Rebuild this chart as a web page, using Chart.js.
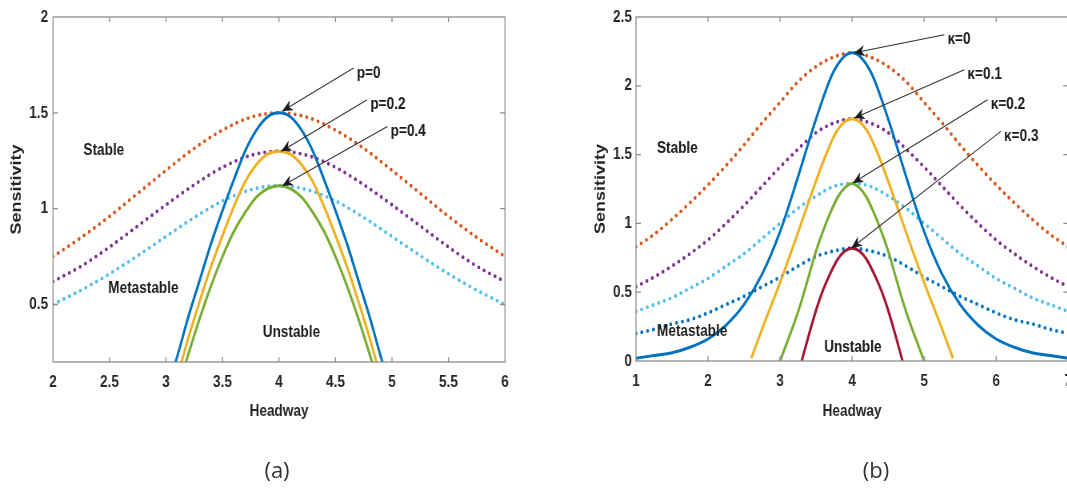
<!DOCTYPE html>
<html>
<head>
<meta charset="utf-8">
<script src="https://cdn.jsdelivr.net/npm/chart.js@4.4.0/dist/chart.umd.min.js"></script>
<style>
  html, body { margin: 0; padding: 0; background: #fff; overflow: hidden; width: 1067px; height: 488px; }
  /* the source figure is squeezed horizontally, so each panel is drawn wider and compressed */
  .wrap { position: absolute; top: 0; height: 488px; transform: scaleX(0.8); transform-origin: 0 0; }
  #wrapA { left: 0; width: 675px; }
  #wrapB { left: 560px; width: 650px; }
  .cap { position: absolute; top: 452px; width: 80px; text-align: center; font: 22px 'Open Sans', 'Liberation Sans', sans-serif; color: #333; line-height: 34px; }
</style>
</head>
<body>
<div class="wrap" id="wrapA"><canvas id="chartA" width="675" height="488"></canvas></div>
<div class="wrap" id="wrapB"><canvas id="chartB" width="650" height="488"></canvas></div>
<div class="cap" style="left:237px">(a)</div>
<div class="cap" style="left:836px">(b)</div>
<script>
// ---- panel (a) data ----
const xTicksA = [2, 2.5, 3, 3.5, 4, 4.5, 5, 5.5, 6];
const yTicksA = [0.5, 1, 1.5, 2];
const hDotA = [2, 2.25, 2.5, 2.75, 3, 3.25, 3.5, 3.75, 4, 4.25, 4.5, 4.75, 5, 5.25, 5.5, 5.75, 6];
const dotP0  = [0.75, 0.85, 0.96, 1.08, 1.20, 1.315, 1.41, 1.477, 1.50, 1.477, 1.41, 1.315, 1.20, 1.08, 0.96, 0.85, 0.75];
const dotP02 = [0.62, 0.70, 0.80, 0.91, 1.02, 1.125, 1.216, 1.278, 1.30, 1.278, 1.216, 1.125, 1.02, 0.91, 0.80, 0.70, 0.62];
const dotP04 = [0.50, 0.575, 0.66, 0.755, 0.855, 0.954, 1.04, 1.099, 1.12, 1.099, 1.04, 0.954, 0.855, 0.755, 0.66, 0.575, 0.50];
const hSolidA = [3.0, 3.1, 3.2, 3.3, 3.4, 3.5, 3.6, 3.7, 3.8, 3.9, 4.0, 4.1, 4.2, 4.3, 4.4, 4.5, 4.6, 4.7, 4.8, 4.9, 5.0];
const solidP0  = [0.04, 0.23, 0.44, 0.63, 0.82, 0.99, 1.15, 1.30, 1.41, 1.48, 1.50, 1.48, 1.41, 1.30, 1.15, 0.99, 0.82, 0.63, 0.44, 0.23, 0.04];
const solidP02 = [-0.08, 0.12, 0.33, 0.52, 0.70, 0.86, 1.01, 1.14, 1.23, 1.285, 1.30, 1.285, 1.23, 1.14, 1.01, 0.86, 0.70, 0.52, 0.33, 0.12, -0.08];
const solidP04 = [-0.15, 0.05, 0.245, 0.43, 0.60, 0.75, 0.88, 0.98, 1.06, 1.105, 1.12, 1.105, 1.06, 0.98, 0.88, 0.75, 0.60, 0.43, 0.245, 0.05, -0.15];
const labelsA = ['p=0', 'p=0.2', 'p=0.4'];
const arrowTipA = [[4.03, 1.51], [4.02, 1.30], [4.03, 1.12]];
const arrowTailA = [[4.66, 1.734], [4.78, 1.568], [4.96, 1.429]];
const regionsA = [['Stable', 2.45, 1.307], ['Metastable', 2.80, 0.587], ['Unstable', 4.11, 0.357]];

// ---- panel (b) data ----
const xTicksB = [1, 2, 3, 4, 5, 6, 7];
const yTicksB = [0, 0.5, 1, 1.5, 2, 2.5];
const hDotB = [1, 1.25, 1.5, 1.75, 2, 2.25, 2.5, 2.75, 3, 3.25, 3.5, 3.75, 4, 4.25, 4.5, 4.75, 5, 5.25, 5.5, 5.75, 6, 6.25, 6.5, 6.75, 7];
const dotK0  = [0.83, 0.92, 1.03, 1.15, 1.28, 1.42, 1.57, 1.73, 1.88, 2.03, 2.14, 2.21, 2.24, 2.21, 2.14, 2.03, 1.88, 1.73, 1.57, 1.42, 1.28, 1.15, 1.03, 0.92, 0.83];
const dotK01 = [0.54, 0.61, 0.69, 0.78, 0.88, 1.00, 1.13, 1.27, 1.41, 1.54, 1.66, 1.73, 1.76, 1.73, 1.66, 1.54, 1.41, 1.27, 1.13, 1.00, 0.88, 0.78, 0.69, 0.61, 0.54];
const dotK02 = [0.36, 0.41, 0.46, 0.53, 0.60, 0.69, 0.78, 0.89, 1.00, 1.11, 1.20, 1.27, 1.29, 1.27, 1.20, 1.11, 1.00, 0.89, 0.78, 0.69, 0.60, 0.53, 0.46, 0.41, 0.36];
const dotK03 = [0.20, 0.23, 0.27, 0.30, 0.35, 0.41, 0.47, 0.54, 0.61, 0.69, 0.76, 0.80, 0.82, 0.80, 0.76, 0.69, 0.61, 0.54, 0.47, 0.41, 0.35, 0.30, 0.27, 0.23, 0.20];
const solidK0 = [0.02, 0.04, 0.06, 0.10, 0.16, 0.26, 0.41, 0.63, 0.94, 1.34, 1.76, 2.11, 2.24, 2.11, 1.76, 1.34, 0.94, 0.63, 0.41, 0.26, 0.16, 0.10, 0.06, 0.04, 0.02];
const hK01 = [2.6, 2.8, 3.0, 3.2, 3.4, 3.6, 3.8, 4.0, 4.2, 4.4, 4.6, 4.8, 5.0, 5.2, 5.4];
const solidK01 = [0.02, 0.30, 0.57, 0.86, 1.16, 1.45, 1.68, 1.76, 1.68, 1.45, 1.16, 0.86, 0.57, 0.30, 0.02];
const hK02 = [3.0, 3.1, 3.2, 3.3, 3.4, 3.5, 3.6, 3.7, 3.8, 3.9, 4.0, 4.1, 4.2, 4.3, 4.4, 4.5, 4.6, 4.7, 4.8, 4.9, 5.0];
const solidK02 = [0.0, 0.14, 0.28, 0.44, 0.62, 0.80, 0.95, 1.08, 1.19, 1.26, 1.29, 1.26, 1.19, 1.08, 0.95, 0.80, 0.62, 0.44, 0.28, 0.14, 0.0];
const hK03 = [3.3, 3.4, 3.5, 3.6, 3.7, 3.8, 3.9, 4.0, 4.1, 4.2, 4.3, 4.4, 4.5, 4.6, 4.7];
const solidK03 = [0.0, 0.19, 0.37, 0.52, 0.64, 0.74, 0.80, 0.82, 0.80, 0.74, 0.64, 0.52, 0.37, 0.19, 0.0];
const labelsB = ['κ=0', 'κ=0.1', 'κ=0.2', 'κ=0.3'];
const arrowTipB = [[4.03, 2.24], [4.03, 1.766], [4.01, 1.294], [3.99, 0.821]];
const arrowTailB = [[5.28, 2.371], [5.557, 2.117], [5.88, 1.899], [6.065, 1.669]];
const regionsB = [['Stable', 1.575, 1.546], ['Metastable', 1.78, 0.215], ['Unstable', 4.01, 0.10]];

const FONT = "'Liberation Sans', Arial, sans-serif";
Chart.defaults.font.family = FONT;

const blue = '#0072BD', orange = '#D95319', yellow = '#EDB120', purple = '#7E2F8E',
      green = '#77AC30', cyan = '#4DBEEE', red = '#A2142F';

function pts(xs, ys) { return xs.map((x, i) => ({x: x, y: ys[i]})); }

function solid(xs, ys, color) {
  return { data: pts(xs, ys), borderColor: color, borderWidth: 3, pointRadius: 0,
           cubicInterpolationMode: 'monotone', fill: false, clip: 0 };
}
function dotted(xs, ys, color) {
  return { data: pts(xs, ys), borderColor: color, borderWidth: 3.8, pointRadius: 0,
           borderDash: [0, 7.4], borderCapStyle: 'round',
           cubicInterpolationMode: 'monotone', fill: false, clip: 0 };
}

// box, inward ticks, region names and arrows
const figDecor = {
  id: 'figDecor',
  afterDatasetsDraw(chart, args, opts) {
    const {ctx, chartArea: a, scales: {x, y}} = chart;
    ctx.save();
    ctx.strokeStyle = '#8c8c8c';
    ctx.lineWidth = 1.3;
    ctx.strokeRect(a.left, a.top, a.right - a.left, a.bottom - a.top);
    x.ticks.forEach(t => {
      const px = x.getPixelForValue(t.value);
      if (px <= a.left + 1 || px >= a.right - 1) return;
      ctx.beginPath();
      ctx.moveTo(px, a.bottom); ctx.lineTo(px, a.bottom - 5);
      ctx.moveTo(px, a.top); ctx.lineTo(px, a.top + 5);
      ctx.stroke();
    });
    y.ticks.forEach(t => {
      const py = y.getPixelForValue(t.value);
      if (py <= a.top + 1 || py >= a.bottom - 1) return;
      ctx.beginPath();
      ctx.moveTo(a.left, py); ctx.lineTo(a.left + 6, py);
      ctx.moveTo(a.right, py); ctx.lineTo(a.right - 6, py);
      ctx.stroke();
    });

    ctx.fillStyle = '#1a1a1a';
    ctx.font = 'bold 17px ' + FONT;
    ctx.textAlign = 'center';
    ctx.textBaseline = 'middle';
    opts.regions.forEach(r => {
      ctx.fillText(r[0], x.getPixelForValue(r[1]), y.getPixelForValue(r[2]));
    });

    ctx.strokeStyle = '#2b2b2b';
    ctx.lineWidth = 1.1;
    ctx.textAlign = 'left';
    opts.labels.forEach((lab, i) => {
      const x0 = x.getPixelForValue(opts.tails[i][0]), y0 = y.getPixelForValue(opts.tails[i][1]);
      const x1 = x.getPixelForValue(opts.tips[i][0]), y1 = y.getPixelForValue(opts.tips[i][1]);
      ctx.beginPath(); ctx.moveTo(x0, y0); ctx.lineTo(x1, y1); ctx.stroke();
      const ang = Math.atan2(y1 - y0, x1 - x0), L = 13, W = 5.5;
      ctx.beginPath();
      ctx.moveTo(x1, y1);
      ctx.lineTo(x1 - L * Math.cos(ang) + W * Math.sin(ang), y1 - L * Math.sin(ang) - W * Math.cos(ang));
      ctx.lineTo(x1 - 0.7 * L * Math.cos(ang), y1 - 0.7 * L * Math.sin(ang));
      ctx.lineTo(x1 - L * Math.cos(ang) - W * Math.sin(ang), y1 - L * Math.sin(ang) + W * Math.cos(ang));
      ctx.closePath();
      ctx.fill();
      ctx.fillText(lab, x0 + 4, y0 + 5);
    });
    ctx.restore();
  }
};

function makeChart(id, datasets, o) {
  return new Chart(document.getElementById(id), {
    type: 'line',
    data: { datasets: datasets },
    plugins: [figDecor],
    options: {
      responsive: false,
      devicePixelRatio: 1,
      animation: false,
      layout: { padding: { left: 0, right: o.padRight, top: o.padTop, bottom: 0 } },
      plugins: {
        legend: { display: false },
        tooltip: { enabled: false },
        figDecor: { regions: o.regions, labels: o.labels, tips: o.tips, tails: o.tails }
      },
      scales: {
        x: {
          type: 'linear', min: o.xMin, max: o.xMax,
          grid: { display: false, drawTicks: false },
          border: { display: false },
          afterBuildTicks: s => { s.ticks = o.xTicks.map(v => ({value: v})); },
          afterFit: s => { s.height = o.xHeight; },
          ticks: { padding: 10, color: '#262626', font: { size: 17, weight: 'bold' },
                   maxRotation: 0, autoSkip: false, callback: v => String(v) },
          title: { display: true, text: 'Headway', color: '#262626',
                   font: { size: 17, weight: 'bold' }, padding: { top: 0, bottom: 66 } }
        },
        y: {
          type: 'linear', min: o.yMin, max: o.yMax,
          grid: { display: false, drawTicks: false },
          border: { display: false },
          afterBuildTicks: s => { s.ticks = o.yTicks.map(v => ({value: v})); },
          afterFit: s => { s.width = o.yWidth; },
          ticks: { padding: o.yPad, color: '#262626', font: { size: 17, weight: 'bold' },
                   callback: v => String(v) },
          title: { display: true, text: 'Sensitivity', color: '#262626',
                   font: { size: 18, weight: 'bold' }, padding: { top: o.yTitlePad, bottom: 0 } }
        }
      }
    }
  });
}

makeChart('chartA', [
  solid(hSolidA, solidP0, blue),
  solid(hSolidA, solidP02, yellow),
  solid(hSolidA, solidP04, green),
  dotted(hDotA, dotP0, orange),
  dotted(hDotA, dotP02, purple),
  dotted(hDotA, dotP04, cyan)
], { padRight: 43.75, padTop: 17, xMin: 2, xMax: 6, yMin: 0.2, yMax: 2, xTicks: xTicksA, yTicks: yTicksA,
     xHeight: 126, yWidth: 66.25, yPad: 6, yTitlePad: 10,
     regions: regionsA, labels: labelsA, tips: arrowTipA, tails: arrowTailA });

makeChart('chartB', [
  solid(hDotB, solidK0, blue),
  solid(hK01, solidK01, yellow),
  solid(hK02, solidK02, green),
  solid(hK03, solidK03, red),
  dotted(hDotB, dotK0, orange),
  dotted(hDotB, dotK01, purple),
  dotted(hDotB, dotK02, cyan),
  dotted(hDotB, dotK03, blue)
], { padRight: 13.75, padTop: 17, xMin: 1, xMax: 7, yMin: 0, yMax: 2.5, xTicks: xTicksB, yTicks: yTicksB,
     xHeight: 127, yWidth: 95, yPad: 5, yTitlePad: 40,
     regions: regionsB, labels: labelsB, tips: arrowTipB, tails: arrowTailB });
</script>
</body>
</html>
